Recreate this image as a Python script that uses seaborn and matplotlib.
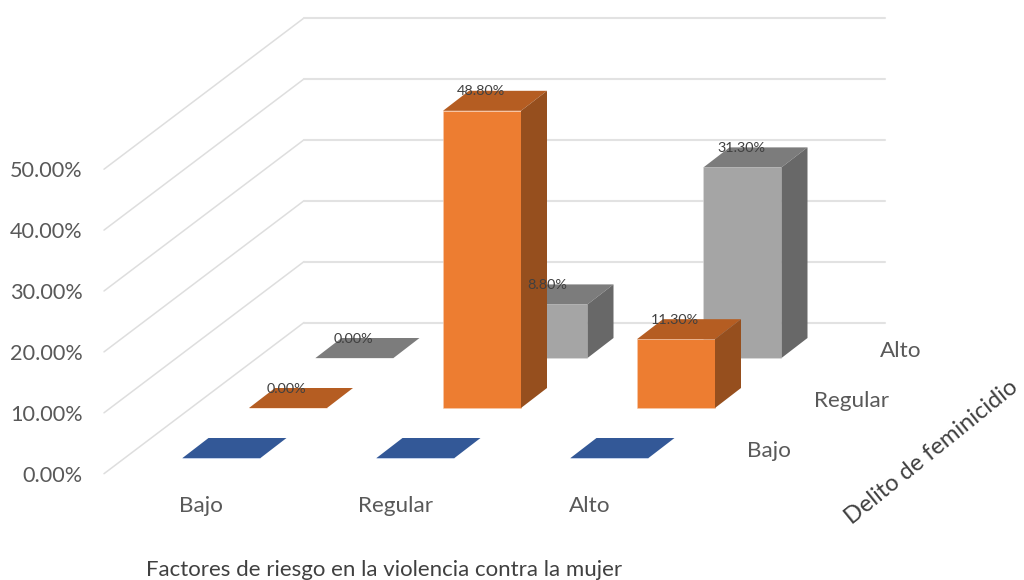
import matplotlib
matplotlib.use("Agg")
import matplotlib.pyplot as plt
from matplotlib.transforms import Affine2D
import pandas as pd
import seaborn as sns

factores = ["Bajo", "Regular", "Alto"]
series_names = ["Bajo", "Regular", "Alto"]
valores_bajo = [0.0, 0.0, 0.0]
valores_regular = [0.0, 48.8, 11.3]
valores_alto = [0.0, 8.8, 31.3]
y_ticks = [0, 10, 20, 30, 40, 50]
y_tick_labels = ["0.00%", "10.00%", "20.00%", "30.00%", "40.00%", "50.00%"]
x_title = "Factores de riesgo en la violencia contra la mujer"
depth_title = "Delito de feminicidio"

sns.set_theme(style="white")
plt.rcParams["font.family"] = ["Lato", "DejaVu Sans"]

# Oblique projection, expressed in data units of the main axes
PX_X, PX_Y = 194.0, 6.09          # pixels per category / per percentage point
X0 = 221.5
SER_DX, SER_DY = 66.5 / PX_X, 50 / PX_Y
DEP_DX, DEP_DY = 26 / PX_X, 20 / PX_Y
BAR_W = 78 / PX_X
WALL_X, WALL_Y = (104 - X0) / PX_X, (458 - 473.7) / PX_Y
WALL_DX, WALL_DY = 200 / PX_X, 151.2 / PX_Y
BACK_END = (885 - X0) / PX_X

STYLES = {
    0: dict(front="#4472c4", top="#335897", side="#264478", edge="#8ea9db"),
    1: dict(front="#ed7d31", top="#b55d22", side="#964f1e", edge="#f8cbad"),
    2: dict(front="#a5a5a5", top="#7c7c7c", side="#686868", edge="#dcdcdc"),
}
TEXT = "#595959"

fig = plt.figure(figsize=(10.24, 5.8), dpi=100)
ax = fig.add_axes([0, 0, 1, 1])

# Walls
for t in y_ticks:
    y0 = WALL_Y + t
    ax.plot([WALL_X, WALL_X + WALL_DX], [y0, y0 + WALL_DY], color="#dedede", lw=1.1, zorder=1)
    ax.plot([WALL_X + WALL_DX, BACK_END], [y0 + WALL_DY] * 2, color="#e2e2e2", lw=1.5, zorder=1)

# Bars, back series first
all_values = [valores_bajo, valores_regular, valores_alto]
for s in (2, 1, 0):
    st = STYLES[s]
    df = pd.DataFrame({"factor": factores, "valor": all_values[s]})
    n_before = len(ax.patches)
    sns.barplot(data=df, x="factor", y="valor", order=factores, color=st["front"],
                saturation=1, width=BAR_W, ax=ax, errorbar=None, zorder=10 + 3 * (2 - s) + 1,
                edgecolor=st["edge"], linewidth=0.4)
    off_x, off_y = s * SER_DX, s * SER_DY
    shift = Affine2D().translate(off_x, off_y) + ax.transData
    for i, bar in enumerate(ax.patches[n_before:]):
        bar.set_transform(shift)
        v = all_values[s][i]
        xl = i - BAR_W / 2 + off_x
        xr = i + BAR_W / 2 + off_x
        yb = off_y
        yt = off_y + v
        z = 10 + 3 * (2 - s)
        ax.fill([xl, xr, xr + DEP_DX, xl + DEP_DX],
                [yt, yt, yt + DEP_DY, yt + DEP_DY],
                color=st["top"], lw=0, zorder=z + 2)
        if v > 0:
            ax.fill([xr, xr + DEP_DX, xr + DEP_DX, xr],
                    [yb, yb + DEP_DY, yt + DEP_DY, yt],
                    color=st["side"], lw=0, zorder=z + 2)
        if s > 0:
            ax.text(i + off_x - 1.5 / PX_X, yt + DEP_DY - 0.1, f"{v:.2f}%", ha="center", va="center",
                    fontsize=10.4, color="#404040", zorder=40)

# Axis text
for t, lab in zip(y_ticks, y_tick_labels):
    ax.text((82.5 - X0) / PX_X, WALL_Y + t - 0.35, lab, ha="right", va="center",
            fontsize=15.6, color=TEXT)
for i, lab in enumerate(factores):
    ax.text(i - 20 / PX_X, (458 - 506) / PX_Y, lab, ha="center", va="center",
            fontsize=16.2, color=TEXT)
for s, lab in enumerate(series_names):
    ax.text((747 - X0) / PX_X + s * SER_DX, (458 - 451) / PX_Y + s * SER_DY, lab,
            ha="left", va="center", fontsize=16.2, color=TEXT)
ax.text((384 - X0) / PX_X, (458 - 570) / PX_Y, x_title, ha="center", va="center",
        fontsize=16, color="#404040")
ax.text((932 - X0) / PX_X, (458 - 452) / PX_Y, depth_title, ha="center", va="center",
        rotation=39, rotation_mode="anchor", fontsize=17, color="#404040")

ax.set_xlim(-X0 / PX_X, (1024 - X0) / PX_X)
ax.set_ylim((458 - 580) / PX_Y, 458 / PX_Y)
ax.set_axis_off()
fig.savefig("out.png", dpi=100, facecolor="white")
